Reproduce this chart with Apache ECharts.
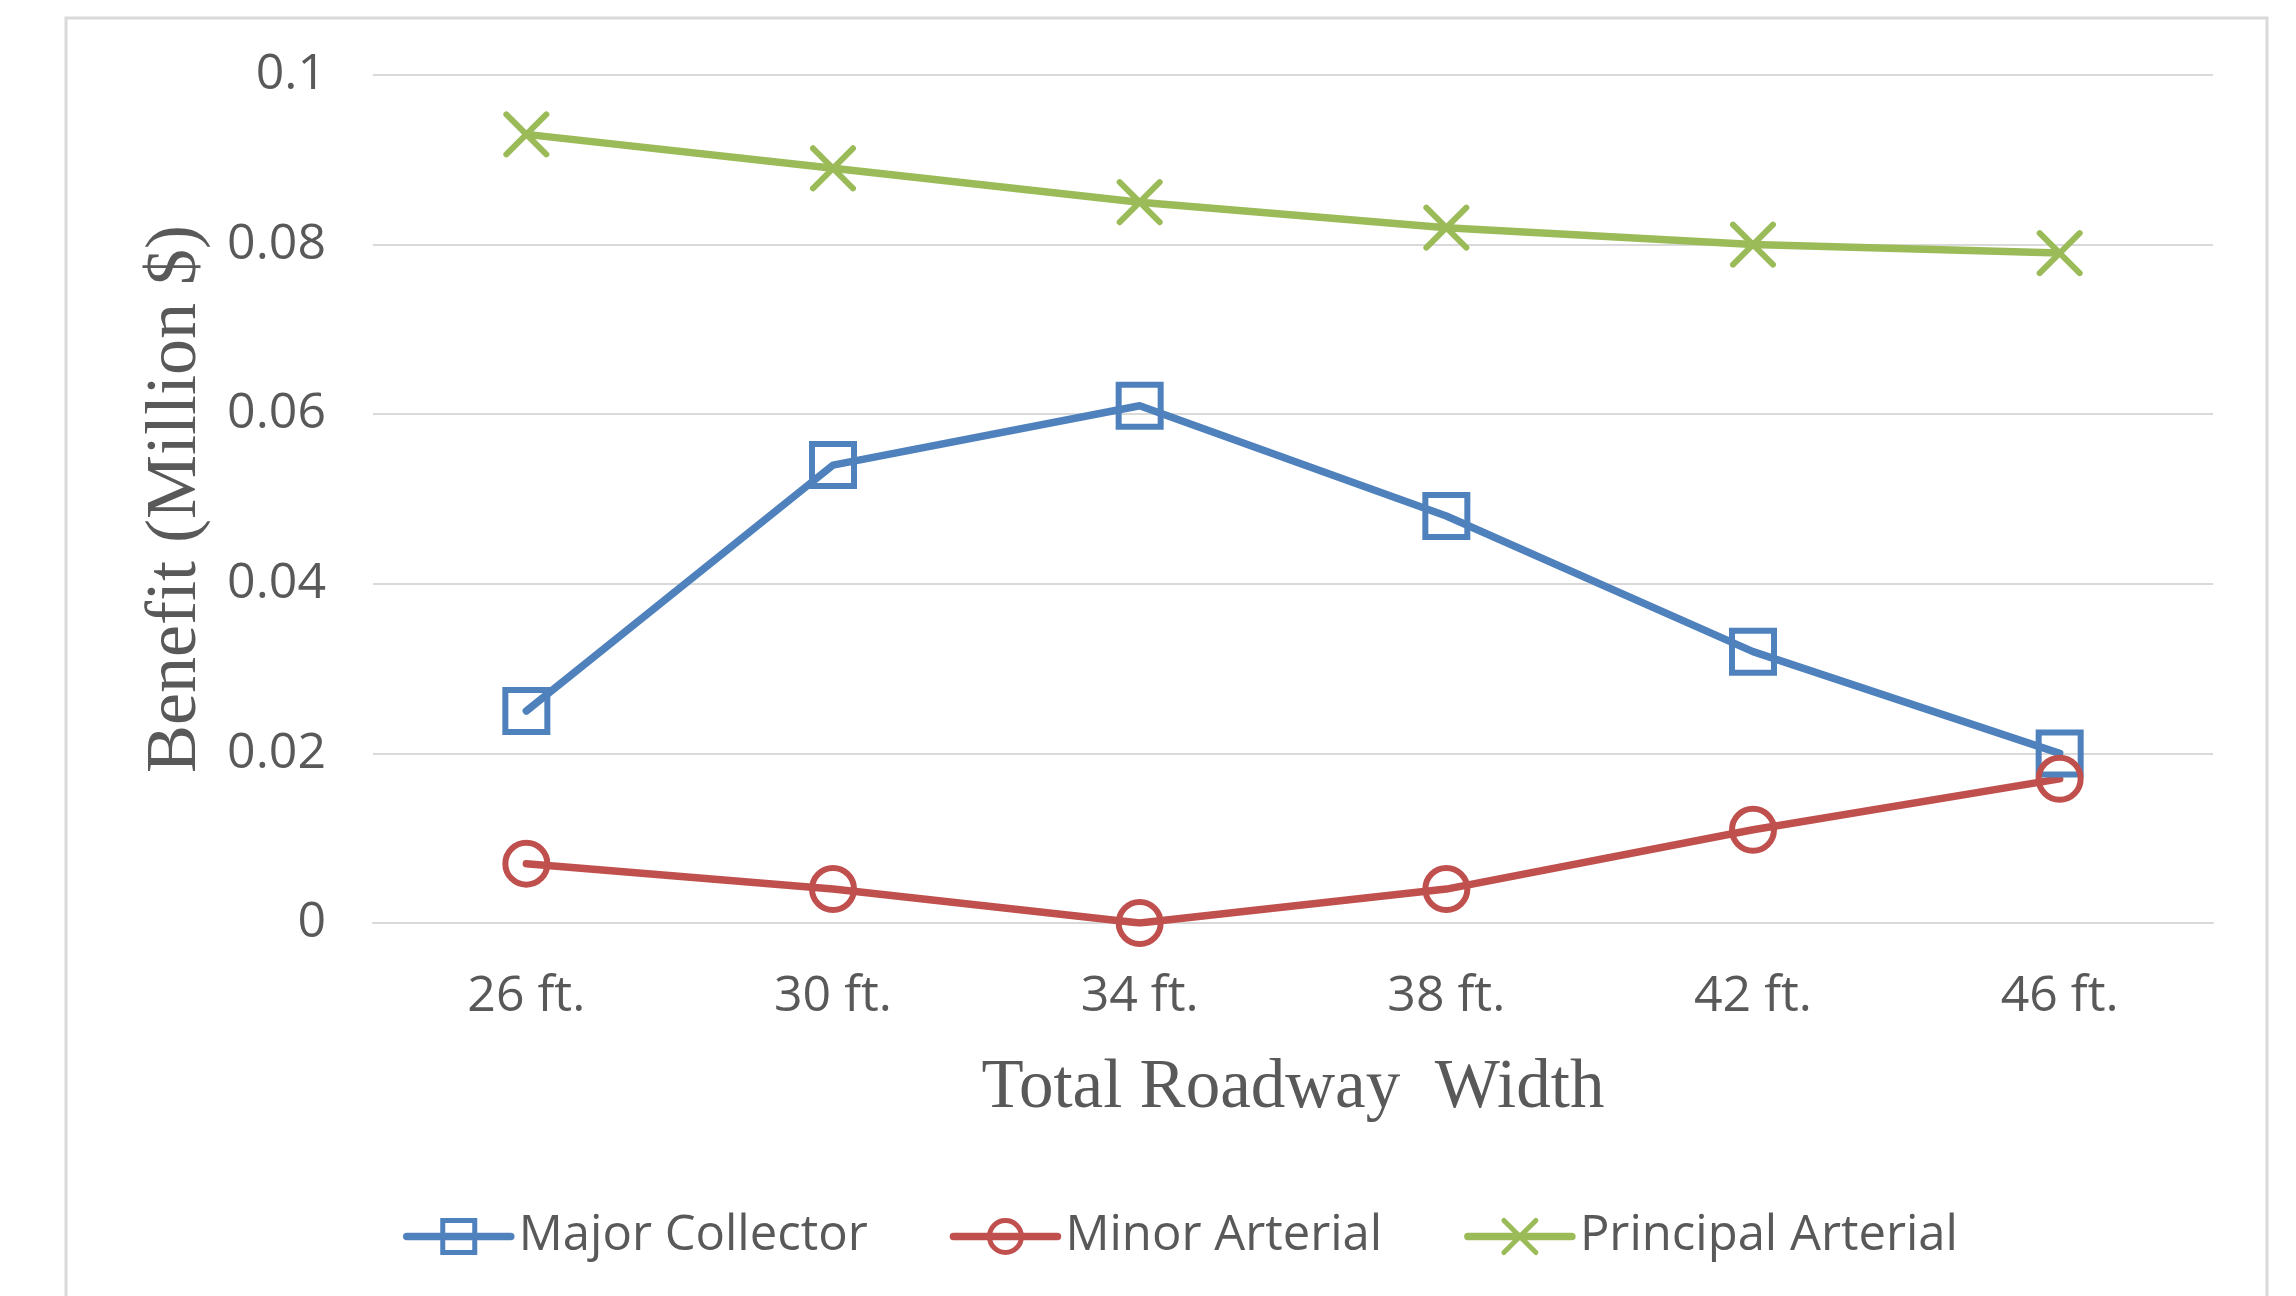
<!DOCTYPE html>
<html>
<head>
<meta charset="utf-8">
<title>Benefit by Total Roadway Width</title>
<script src="https://cdn.jsdelivr.net/npm/echarts@6/dist/echarts.min.js"></script>
<style>
  html, body { margin: 0; padding: 0; background: #ffffff; }
  #chart { width: 2296px; height: 1296px; }
</style>
</head>
<body>
<div id="chart"></div>
<script>
// Roadway width categories (x axis)
const categories = ['26 ft.', '30 ft.', '34 ft.', '38 ft.', '42 ft.', '46 ft.'];

// Benefit in million dollars for each functional class
const majorCollector = [0.025, 0.054, 0.061, 0.048, 0.032, 0.020];
const minorArterial = [0.007, 0.004, 0.000, 0.004, 0.011, 0.017];
const principalArterial = [0.093, 0.089, 0.085, 0.082, 0.080, 0.079];

// Y axis range and step
const yMin = 0;
const yMax = 0.1;
const yStep = 0.02;

const textColor = '#595959';
const gridColor = '#d9d9d9';
const sansFont = '"Open Sans", "Noto Sans", sans-serif';
const serifFont = '"Liberation Serif", "DejaVu Serif", serif';

const crossPath = 'path://M0,0 L10,10 M10,0 L0,10';

function lineSeries(name, data, color, symbol, size) {
  return {
    name: name,
    type: 'line',
    data: data,
    symbol: symbol,
    symbolSize: size,
    showAllSymbol: true,
    lineStyle: { color: color, width: 7.5, cap: 'round', join: 'round' },
    itemStyle: {
      color: 'rgba(0,0,0,0)',
      borderColor: color,
      borderWidth: 6,
      borderCap: 'round'
    },
    emphasis: { disabled: true },
    z: 3
  };
}

const chart = echarts.init(document.getElementById('chart'), null, { renderer: 'canvas' });

chart.setOption({
  backgroundColor: '#ffffff',
  animation: false,
  graphic: [{
    type: 'rect',
    shape: { x: 66, y: 18, width: 2201, height: 1320 },
    style: { fill: 'none', stroke: gridColor, lineWidth: 3 },
    z: 0,
    silent: true
  }],
  grid: { left: 373, right: 83, top: 75, bottom: 373, containLabel: false },
  legend: {
    data: ['Major Collector', 'Minor Arterial', 'Principal Arterial'],
    left: 398,
    top: 1207,
    itemWidth: 104,
    itemHeight: 40,
    itemGap: 82,
    lineStyle: { width: 7.5 },
    itemStyle: { borderWidth: 5 },
    textStyle: { color: textColor, fontFamily: sansFont, fontSize: 49, padding: [0, 0, 0, 3] },
    selectedMode: false
  },
  xAxis: {
    type: 'category',
    data: categories,
    boundaryGap: true,
    name: 'Total Roadway  Width',
    nameLocation: 'middle',
    nameGap: 131,
    nameTextStyle: { color: textColor, fontFamily: serifFont, fontSize: 69 },
    axisLine: { show: true, lineStyle: { color: gridColor, width: 2 } },
    axisTick: { show: false },
    axisLabel: { color: textColor, fontFamily: sansFont, fontSize: 50, margin: 49 },
    splitLine: { show: false }
  },
  yAxis: {
    type: 'value',
    min: yMin,
    max: yMax,
    interval: yStep,
    name: 'Benefit (Million $)',
    nameLocation: 'middle',
    nameGap: 161,
    nameRotate: 90,
    nameTextStyle: { color: textColor, fontFamily: serifFont, fontSize: 72 },
    axisLine: { show: false },
    axisTick: { show: false },
    axisLabel: {
      color: textColor,
      fontFamily: sansFont,
      fontSize: 50,
      margin: 47,
      formatter: function (v) { return String(parseFloat(v.toFixed(2))); }
    },
    splitLine: { show: true, lineStyle: { color: gridColor, width: 2 } }
  },
  series: [
    lineSeries('Major Collector', majorCollector, '#4F81BD', 'rect', 42),
    lineSeries('Minor Arterial', minorArterial, '#C0504D', 'circle', 42),
    lineSeries('Principal Arterial', principalArterial, '#9BBB59', crossPath, 40)
  ]
});
</script>
</body>
</html>
